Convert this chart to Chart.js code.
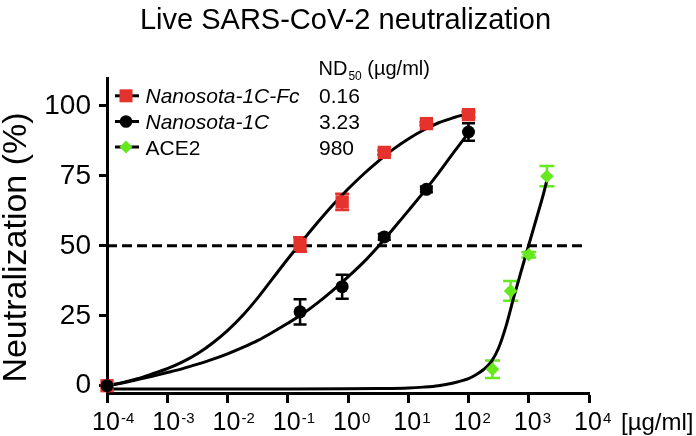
<!DOCTYPE html>
<html>
<head>
<meta charset="utf-8">
<script src="https://cdn.jsdelivr.net/npm/chart.js@4.4.0/dist/chart.umd.min.js"></script>
<style>
html, body { margin: 0; padding: 0; background: #fff; }
</style>
</head>
<body>
<canvas id="myChart" width="696" height="436"></canvas>
<script>
// measured points (dose in ug/ml, % neutralization)
const doseAb = [0.0001, 0.16, 0.8, 4, 20, 100];
const fcValues = [0, 50.5, 65.7, 83.4, 93.7, 96.9];
const fcErrors = [0, 2.6, 2.9, 0.8, 0.6, 1.0];
const nanoValues = [0, 26.4, 35.4, 53.2, 70.2, 90.7];
const nanoErrors = [0, 4.5, 4.3, 1, 1, 3.1];
const doseAce2 = [250, 500, 1000, 2000];
const ace2Values = [5.9, 33.9, 46.8, 74.9];
const ace2Errors = [3.1, 3.5, 1, 3.6];

// fitted curves, every quarter decade
const fitX = [0.0001, 0.00018, 0.00032, 0.00056, 0.001, 0.0018, 0.0032, 0.0056,
    0.01, 0.018, 0.032, 0.056, 0.1, 0.18, 0.32, 0.56, 1, 1.8, 3.2, 5.6, 10, 18, 32, 56, 100];
const fcFit = [0, 1.1, 2.5, 4.2, 6.1, 8.5, 11.5, 15.2, 19.7, 25.2, 31.5, 38.3, 45.3,
    52.1, 58.6, 64.6, 70.3, 75.6, 80.3, 84.5, 88.2, 91.4, 94, 95.8, 97.3];
const nanoFit = [0, 1.0, 2.2, 3.4, 4.7, 6.1, 7.7, 9.4, 11.4, 13.7, 16.2, 19.1, 22.3,
    25.8, 29.8, 34.1, 38.9, 44.1, 49.9, 56, 62.5, 69.2, 76.1, 83.2, 90.3];
const ace2FitX = [0.0001, 0.001, 0.01, 0.1, 1, 3.2, 10, 17.8, 31.6, 56.2, 100, 133, 178,
    237, 316, 422, 562, 750, 1000, 1334, 1778, 2000];
const ace2Fit = [-1.2, -1.2, -1.2, -1.2, -1.1, -1.0, -0.8, -0.5, 0, 1.0, 2.5, 3.9, 5.8,
    8.5, 13.5, 21.5, 31.5, 41, 50.3, 59.6, 69, 73.5];

const legendNames = ['Nanosota-1C-Fc', 'Nanosota-1C', 'ACE2'];
const nd50 = ['0.16', '3.23', '980'];
const xPowers = [-4, -3, -2, -1, 0, 1, 2, 3, 4];
const yTicks = [0, 25, 50, 75, 100];
const halfLineX = [0.0001, 9000];
const halfLineY = [50, 50];

const RED = '#e5322d';
const GREEN = '#66e81f';
const FONT = 'Liberation Sans, Arial, Helvetica, sans-serif';

function pts(xs, ys) {
    return xs.map((x, i) => ({ x: x, y: ys[i] }));
}

function drawErrorBars(chart, xs, ys, errs, color, half) {
    const c = chart.ctx, sx = chart.scales.x, sy = chart.scales.y;
    c.save();
    c.strokeStyle = color;
    c.lineWidth = 2.5;
    for (let i = 0; i < xs.length; i++) {
        if (!errs[i]) continue;
        const px = sx.getPixelForValue(xs[i]);
        const top = sy.getPixelForValue(ys[i] + errs[i]);
        const bot = sy.getPixelForValue(ys[i] - errs[i]);
        c.beginPath();
        c.moveTo(px, top); c.lineTo(px, bot);
        c.moveTo(px - half, top); c.lineTo(px + half, top);
        c.moveTo(px - half, bot); c.lineTo(px + half, bot);
        c.stroke();
    }
    c.restore();
}

const errorBars = {
    id: 'errorBars',
    beforeDatasetsDraw(chart) {
        drawErrorBars(chart, doseAb, fcValues, fcErrors, RED, 7);
        drawErrorBars(chart, doseAb, nanoValues, nanoErrors, '#000', 6.5);
        drawErrorBars(chart, doseAce2, ace2Values, ace2Errors, GREEN, 7.5);
    }
};

function legendMarker(c, i, x, y) {
    c.strokeStyle = '#000';
    c.lineWidth = 3;
    c.beginPath();
    c.moveTo(x - 11, y); c.lineTo(x + 13, y);
    c.stroke();
    c.beginPath();
    if (i === 0) {
        c.fillStyle = RED;
        c.fillRect(x - 6.5, y - 6.5, 13, 13);
    } else if (i === 1) {
        c.fillStyle = '#000';
        c.arc(x, y, 6.3, 0, Math.PI * 2);
        c.fill();
    } else {
        c.fillStyle = GREEN;
        c.moveTo(x, y - 6.5); c.lineTo(x + 6.5, y); c.lineTo(x, y + 6.5); c.lineTo(x - 6.5, y);
        c.closePath();
        c.fill();
    }
}

const texts = {
    id: 'texts',
    afterDraw(chart) {
        const c = chart.ctx, sx = chart.scales.x;
        c.save();
        c.fillStyle = '#000';
        c.textBaseline = 'alphabetic';

        // title
        c.font = '29px ' + FONT;
        c.textAlign = 'center';
        c.fillText('Live SARS-CoV-2 neutralization', 345.5, 29);

        // y title
        c.save();
        c.translate(25.5, 247.5);
        c.rotate(-Math.PI / 2);
        c.font = '34px ' + FONT;
        c.fillText('Neutralization (%)', 0, 0);
        c.restore();

        // x tick labels with superscripts
        xPowers.forEach(p => {
            const px = sx.getPixelForValue(Math.pow(10, p));
            c.font = '25px ' + FONT;
            c.textAlign = 'center';
            c.fillText('10', px - 1, 430);
            const w = c.measureText('10').width;
            c.font = '15px ' + FONT;
            c.textAlign = 'left';
            c.fillText(String(p), px - 1 + w / 2 + 1, 423);
        });
        c.font = '24px ' + FONT;
        c.textAlign = 'left';
        c.fillText('[\u00b5g/ml]', 621, 430);

        // ND50 header
        c.font = '20px ' + FONT;
        c.fillText('ND', 318.5, 75);
        let w = c.measureText('ND').width;
        c.font = '12px ' + FONT;
        c.fillText('50', 318.5 + w + 1, 80);
        const w2 = c.measureText('50').width;
        c.font = '20px ' + FONT;
        c.fillText(' (\u00b5g/ml)', 318.5 + w + 1 + w2, 75);

        // legend
        const baselines = [103.3, 129, 154.5];
        legendNames.forEach((name, i) => {
            const yb = baselines[i];
            legendMarker(c, i, 126, yb - 7.5);
            c.fillStyle = '#000';
            c.font = (i < 2 ? 'italic ' : '') + '21px ' + FONT;
            c.textAlign = 'left';
            c.fillText(name, 145.5, yb);
            c.font = '21px ' + FONT;
            c.fillText(nd50[i], 319, yb);
        });
        c.restore();
    }
};

const ctx = document.getElementById('myChart').getContext('2d');
const myChart = new Chart(ctx, {
    type: 'scatter',
    data: {
        datasets: [
            {
                label: 'Nanosota-1C',
                data: pts(doseAb, nanoValues),
                pointStyle: 'circle',
                pointRadius: 6.5,
                backgroundColor: '#000',
                borderColor: '#000',
                borderWidth: 0,
                clip: false
            },
            {
                label: 'Nanosota-1C-Fc',
                data: pts(doseAb, fcValues),
                pointStyle: 'rect',
                pointRadius: 9.4,
                backgroundColor: RED,
                borderColor: RED,
                borderWidth: 0,
                clip: false
            },
            {
                label: 'ACE2',
                data: pts(doseAce2, ace2Values),
                pointStyle: 'rectRot',
                pointRadius: 6.8,
                backgroundColor: GREEN,
                borderColor: GREEN,
                borderWidth: 0,
                clip: false
            },
            {
                label: 'fit Fc',
                data: pts(fitX, fcFit),
                showLine: true,
                pointRadius: 0,
                borderColor: '#000',
                borderWidth: 3,
                cubicInterpolationMode: 'monotone',
                clip: false
            },
            {
                label: 'fit 1C',
                data: pts(fitX, nanoFit),
                showLine: true,
                pointRadius: 0,
                borderColor: '#000',
                borderWidth: 3,
                cubicInterpolationMode: 'monotone',
                clip: false
            },
            {
                label: 'fit ACE2',
                data: pts(ace2FitX, ace2Fit),
                showLine: true,
                pointRadius: 0,
                borderColor: '#000',
                borderWidth: 3,
                cubicInterpolationMode: 'monotone',
                clip: false
            },
            {
                label: '50%',
                data: pts(halfLineX, halfLineY),
                showLine: true,
                pointRadius: 0,
                borderColor: '#000',
                borderWidth: 3,
                borderDash: [10, 5]
            }
        ]
    },
    options: {
        responsive: false,
        animation: false,
        devicePixelRatio: 1,
        layout: { padding: { top: 78, right: 107, bottom: 0, left: 0 } },
        plugins: {
            legend: { display: false },
            tooltip: { enabled: false },
            title: { display: false }
        },
        scales: {
            x: {
                type: 'logarithmic',
                min: 0.0001,
                max: 10000,
                afterBuildTicks: s => { s.ticks = xPowers.map(p => ({ value: Math.pow(10, p) })); },
                afterFit: s => { s.height = 43; },
                ticks: { display: false },
                grid: { drawOnChartArea: false, drawTicks: true, tickLength: 10, tickWidth: 3, tickColor: '#000' },
                border: { display: true, width: 3, color: '#000' }
            },
            y: {
                min: -2.6,
                max: 110,
                afterBuildTicks: s => { s.ticks = yTicks.map(v => ({ value: v })); },
                afterFit: s => { s.width = 107; },
                ticks: { color: '#000', padding: 8, font: { family: FONT, size: 28 } },
                grid: { drawOnChartArea: false, drawTicks: true, tickLength: 8, tickWidth: 3, tickColor: '#000' },
                border: { display: true, width: 3, color: '#000' }
            }
        }
    },
    plugins: [errorBars, texts]
});
</script>
</body>
</html>
